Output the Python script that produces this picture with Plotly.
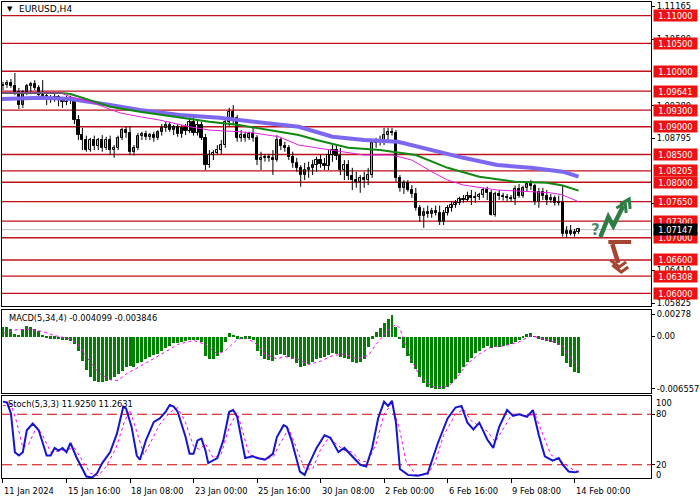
import plotly.graph_objects as go

# ---------------- DATA ----------------
bars = list(range(146))
opens = [1.0973,1.0975,1.0979,1.0973,1.0963,1.0939,1.0963,1.0973,1.0977,1.0970,
 1.0957,1.0956,1.0948,1.0952,1.0954,1.0948,1.0945,1.0952,1.0948,1.0912,
 1.0885,1.0876,1.0858,1.0876,1.0866,1.0876,1.0862,1.0876,1.0858,1.0862,
 1.0880,1.0894,1.0889,1.0855,1.0862,1.0884,1.0887,1.0882,1.0885,1.0880,
 1.0891,1.0898,1.0903,1.0894,1.0900,1.0887,1.0898,1.0893,1.0909,1.0889,
 1.0903,1.0880,1.0831,1.0849,1.0853,1.0858,1.0867,1.0909,1.0927,1.0916,
 1.0880,1.0885,1.0880,1.0887,1.0880,1.0840,1.0844,1.0846,1.0844,1.0840,
 1.0876,1.0866,1.0862,1.0846,1.0835,1.0826,1.0813,1.0822,1.0826,1.0831,
 1.0840,1.0833,1.0830,1.0849,1.0858,1.0848,1.0822,1.0831,1.0812,1.0804,
 1.0801,1.0808,1.0804,1.0813,1.0871,1.0875,1.0876,1.0885,1.0891,1.0889,
 1.0808,1.0790,1.0799,1.0786,1.0779,1.0754,1.0740,1.0747,1.0743,1.0749,
 1.0745,1.0729,1.0745,1.0754,1.0759,1.0763,1.0770,1.0768,1.0776,1.0772,
 1.0774,1.0777,1.0786,1.0781,1.0741,1.0779,1.0776,1.0774,1.0772,1.0770,
 1.0788,1.0776,1.0790,1.0797,1.0794,1.0765,1.0783,1.0776,1.0768,1.0772,
 1.0763,1.0765,1.0707,1.0713,1.0707,1.0711]
highs = [1.0981,1.0984,1.0986,1.0997,1.0970,1.0966,1.0977,1.0981,1.0984,1.0975,
 1.0984,1.0963,1.0957,1.0959,1.0957,1.0954,1.0956,1.0956,1.0952,1.0921,
 1.0898,1.0884,1.0880,1.0884,1.0880,1.0885,1.0882,1.0884,1.0867,1.0884,
 1.0898,1.0900,1.0901,1.0867,1.0889,1.0891,1.0893,1.0889,1.0891,1.0894,
 1.0905,1.0909,1.0909,1.0903,1.0905,1.0903,1.0905,1.0916,1.0916,1.0912,
 1.0909,1.0887,1.0858,1.0858,1.0867,1.0876,1.0912,1.0934,1.0939,1.0921,
 1.0894,1.0891,1.0891,1.0898,1.0885,1.0855,1.0851,1.0851,1.0858,1.0885,
 1.0880,1.0873,1.0867,1.0855,1.0844,1.0831,1.0835,1.0837,1.0840,1.0846,
 1.0849,1.0844,1.0858,1.0867,1.0866,1.0862,1.0840,1.0840,1.0826,1.0819,
 1.0813,1.0819,1.0826,1.0876,1.0880,1.0884,1.0898,1.0898,1.0898,1.0894,
 1.0813,1.0804,1.0804,1.0795,1.0790,1.0759,1.0754,1.0758,1.0754,1.0758,
 1.0758,1.0750,1.0759,1.0765,1.0768,1.0774,1.0777,1.0783,1.0786,1.0783,
 1.0781,1.0790,1.0792,1.0786,1.0783,1.0786,1.0781,1.0779,1.0777,1.0794,
 1.0797,1.0794,1.0801,1.0804,1.0797,1.0790,1.0790,1.0786,1.0779,1.0776,
 1.0776,1.0794,1.0721,1.0723,1.0716,1.0716]
lows = [1.0966,1.0970,1.0970,1.0957,1.0932,1.0934,1.0957,1.0963,1.0966,1.0952,
 1.0948,1.0939,1.0943,1.0945,1.0937,1.0934,1.0939,1.0941,1.0905,1.0876,
 1.0858,1.0855,1.0855,1.0858,1.0858,1.0855,1.0858,1.0849,1.0844,1.0858,
 1.0876,1.0880,1.0849,1.0848,1.0858,1.0876,1.0876,1.0876,1.0873,1.0876,
 1.0884,1.0891,1.0891,1.0885,1.0882,1.0880,1.0885,1.0889,1.0884,1.0884,
 1.0876,1.0822,1.0826,1.0840,1.0849,1.0849,1.0862,1.0901,1.0903,1.0873,
 1.0873,1.0873,1.0876,1.0873,1.0831,1.0822,1.0837,1.0837,1.0813,1.0837,
 1.0858,1.0855,1.0840,1.0826,1.0819,1.0792,1.0804,1.0808,1.0813,1.0819,
 1.0826,1.0822,1.0822,1.0837,1.0840,1.0813,1.0804,1.0804,1.0786,1.0790,
 1.0781,1.0790,1.0795,1.0808,1.0862,1.0866,1.0867,1.0876,1.0884,1.0801,
 1.0783,1.0779,1.0783,1.0772,1.0749,1.0729,1.0718,1.0736,1.0736,1.0740,
 1.0723,1.0723,1.0740,1.0747,1.0754,1.0759,1.0763,1.0765,1.0759,1.0763,
 1.0768,1.0772,1.0768,1.0740,1.0738,1.0768,1.0767,1.0765,1.0765,1.0759,
 1.0772,1.0772,1.0783,1.0786,1.0759,1.0754,1.0768,1.0759,1.0763,1.0758,
 1.0758,1.0702,1.0700,1.0704,1.0702,1.0707]
closes = [1.0975,1.0979,1.0973,1.0963,1.0939,1.0963,1.0973,1.0977,1.0970,1.0957,
 1.0956,1.0948,1.0952,1.0954,1.0948,1.0945,1.0952,1.0948,1.0912,1.0885,
 1.0876,1.0858,1.0876,1.0866,1.0876,1.0862,1.0876,1.0858,1.0862,1.0880,
 1.0894,1.0889,1.0855,1.0862,1.0884,1.0887,1.0882,1.0885,1.0880,1.0891,
 1.0898,1.0903,1.0894,1.0900,1.0887,1.0898,1.0893,1.0909,1.0889,1.0903,
 1.0880,1.0831,1.0849,1.0853,1.0858,1.0867,1.0909,1.0927,1.0916,1.0880,
 1.0885,1.0880,1.0887,1.0880,1.0840,1.0844,1.0846,1.0844,1.0840,1.0876,
 1.0866,1.0862,1.0846,1.0835,1.0826,1.0813,1.0822,1.0826,1.0831,1.0840,
 1.0833,1.0830,1.0849,1.0858,1.0848,1.0822,1.0831,1.0812,1.0804,1.0801,
 1.0808,1.0804,1.0813,1.0871,1.0875,1.0876,1.0885,1.0891,1.0889,1.0808,
 1.0790,1.0799,1.0786,1.0779,1.0754,1.0740,1.0747,1.0743,1.0749,1.0745,
 1.0729,1.0745,1.0754,1.0759,1.0763,1.0770,1.0768,1.0776,1.0772,1.0774,
 1.0777,1.0786,1.0781,1.0741,1.0779,1.0776,1.0774,1.0772,1.0770,1.0788,
 1.0776,1.0790,1.0797,1.0794,1.0765,1.0783,1.0776,1.0768,1.0772,1.0763,
 1.0765,1.0707,1.0713,1.0707,1.0711,1.0715]

# moving averages (read at sparse points)
ma_slow_x = [-0.5,9.5,17,22,27,34.5,44.5,54.5,59.5,67,74.5,83,91,99.5,108,116,124.5,133,141,145]
ma_slow_y = [1.0950,1.0952,1.0950,1.0945,1.0939,1.0930,1.0921,1.0916,1.0912,1.0907,1.0900,
             1.0882,1.0876,1.0873,1.0858,1.0844,1.0831,1.0826,1.0819,1.0810]
ma_mid_x = [-0.5,14.5,17,22,27,34.5,44.5,52,59.5,67,74.5,79,87,95,104,112,120,129,137,141,145]
ma_mid_y = [1.0961,1.0961,1.0959,1.0948,1.0936,1.0927,1.0916,1.0909,1.0903,1.0894,1.0885,
            1.0876,1.0862,1.0858,1.0849,1.0826,1.0810,1.0801,1.0799,1.0794,1.0785]
ma_fast_x = [-0.5,14.5,17,22,26,29.5,34.5,39.5,47,52,59.5,63,69.5,74.5,79,83,91,98,103,108,
             112,116,124.5,133,138,141,145]
ma_fast_y = [1.0961,1.0961,1.0954,1.0945,1.0934,1.0925,1.0918,1.0912,1.0900,1.0894,1.0891,
             1.0889,1.0882,1.0867,1.0862,1.0858,1.0849,1.0849,1.0840,1.0819,1.0804,1.0795,
             1.0786,1.0783,1.0781,1.0777,1.0765]

levels = [1.11000,1.10500,1.10000,1.09641,1.09300,1.09000,1.08500,1.08205,1.08000,
          1.07650,1.07300,1.07000,1.06600,1.06308,1.06000]
price_ticks = [1.11165,1.10580,1.09380,1.08795,1.07610,1.06410,1.05825]
last_price = 1.07147

macd_hist = [0.0012,0.0013,0.0010,0.0004,0.0003,0.0010,0.0014,0.0013,0.0010,0.0007,
 0.0003,-0.0001,-0.0002,-0.0002,-0.0003,-0.0004,-0.0004,-0.0005,-0.0009,-0.0017,
 -0.0030,-0.0041,-0.0050,-0.0055,-0.0056,-0.0056,-0.0055,-0.0054,-0.0050,-0.0046,
 -0.0042,-0.0038,-0.0036,-0.0037,-0.0033,-0.0031,-0.0028,-0.0025,-0.0023,-0.0021,
 -0.0017,-0.0014,-0.0011,-0.0008,-0.0007,-0.0006,-0.0005,-0.0004,-0.0004,-0.0004,
 -0.0006,-0.0024,-0.0027,-0.0027,-0.0024,-0.0019,-0.0006,0.0005,0.0003,-0.0002,
 -0.0003,-0.0002,-0.0002,-0.0004,-0.0018,-0.0024,-0.0027,-0.0029,-0.0030,-0.0023,
 -0.0021,-0.0022,-0.0025,-0.0028,-0.0032,-0.0037,-0.0036,-0.0034,-0.0031,-0.0028,
 -0.0026,-0.0025,-0.0022,-0.0020,-0.0021,-0.0025,-0.0026,-0.0028,-0.0031,-0.0032,
 -0.0031,-0.0028,-0.0012,-0.0002,0.0006,0.0011,0.0017,0.0022,0.0027,0.0013,
 -0.0003,-0.0014,-0.0024,-0.0032,-0.0040,-0.0050,-0.0058,-0.0062,-0.0064,-0.0065,
 -0.0065,-0.0065,-0.0063,-0.0058,-0.0052,-0.0045,-0.0038,-0.0031,-0.0026,-0.0020,
 -0.0017,-0.0014,-0.0011,-0.0014,-0.0013,-0.0012,-0.0011,-0.0010,-0.0009,-0.0006,
 -0.0004,-0.0001,0.0004,0.0005,0.0001,-0.0002,-0.0004,-0.0005,-0.0006,-0.0008,
 -0.0010,-0.0024,-0.0033,-0.0037,-0.0044,-0.0045]
macd_sig_x = [0,3,7,10,13,17,19,21,24,27,29,31,35,38,41,44,48,51,54,56,59,61,64,66,69,71,74,77,
              80,83,86,89,92,94,97,99,100,101,103,105,108,111,113,115,117,120,123,126,130,133,
              136,139,141,143,145]
macd_sig_y = [0.0004,0.0008,0.0009,0.0006,0.0001,-0.0003,-0.0010,-0.0025,-0.0045,-0.0054,-0.0055,
              -0.0047,-0.0036,-0.0028,-0.0019,-0.0010,-0.0005,-0.0010,-0.0022,-0.0018,-0.0004,
              -0.0001,-0.0010,-0.0022,-0.0028,-0.0025,-0.0028,-0.0035,-0.0031,-0.0024,-0.0022,
              -0.0028,-0.0024,-0.0010,0.0008,0.0015,0.0010,-0.0005,-0.0030,-0.0050,-0.0062,
              -0.0064,-0.0059,-0.0047,-0.0034,-0.0022,-0.0013,-0.0012,-0.0007,0.0001,-0.0003,
              -0.0007,-0.0012,-0.0027,-0.0037]
macd_ticks = [0.00278, 0.0, -0.006557]
macd_ticktext = ["0.00278", "0.00", "-0.006557"]

stoch_x = [0,1,2,3,4,5,6,7.5,9,11,12,13,14,15,16,17,18.5,20,21,22.5,23.7,25,27,28.7,30.3,31,32.4,
           33.7,34.5,36,38,39.5,41,42,43,44,45,46,47,48,49,50,51,51.7,54,55.5,57,58,59,61,63,64,
           66,68,69,70.7,71.5,72.7,74,74.8,76,77,79,81,82.5,84.5,86,88,90,91.5,93,94.5,96,97,98,
           99,100,102,104.5,107,109.5,112,114,115.5,117,118.5,120,122,123.5,125,127,128.5,130,
           132,133.5,135,136.5,138.5,140,141,142.5,144,145]
stoch_k = [95,94,81,35,31,35,61,69,61,31,31,40,37,40,35,46,29,16,6,5,10,22,35,57,89,87,65,
           31,26,49,71,75,83,91,89,83,69,53,33,33,49,51,37,22,28,49,83,85,77,28,30,28,
           26,33,53,67,65,49,26,12,8,20,40,55,52,35,40,30,20,18,40,75,95,90,96,
           70,15,8,7,10,45,75,88,90,70,62,70,50,40,65,85,78,80,
           77,85,55,30,25,28,20,12,11,12]
stoch_sx = [0,2,3.5,5,6.5,8.5,10,12,14,16,18,20,22,24,26,28.5,30.5,32,34,35.5,37,39.5,42,44,46,48,
            49.5,51,53,55,57,59,60.5,62,64,66,68,70,72,74,76,78,80,82,84,86,88,90,92,94,96,98,100,
            101.5,104,107,109,111,114,116,118,120,122,124,126,128,130,132,134,136,138,140,142,144,145]
stoch_d = [90,92,70,40,45,65,55,35,36,38,40,25,10,7,18,40,70,85,55,32,45,68,82,88,70,42,
           38,45,28,33,65,82,58,32,29,27,29,47,63,40,15,15,38,52,45,37,35,24,24,45,80,93,60,
           25,8,8,25,55,80,86,72,66,60,47,62,78,80,78,80,55,32,26,20,13,12]

date_ticks = [0,16,32,48,64,80,96,112,128,144]
date_labels = ["11 Jan 2024","15 Jan 16:00","18 Jan 08:00","23 Jan 00:00","25 Jan 16:00",
               "30 Jan 08:00","2 Feb 00:00","6 Feb 16:00","9 Feb 08:00","14 Feb 00:00"]

# ---------------- LAYOUT HELPERS ----------------
W, H = 700, 500
ML, MR, MT, MB = 1, 45, 2, 22
PW, PH = W - ML - MR, H - MT - MB
def pxx(x): return (x - ML) / PW
def pyy(y): return (H - MB - y) / PH

FONT = "DejaVu Sans"
fig = go.Figure()

# wicks
wx, wy = [], []
for i, h, l in zip(bars, highs, lows):
    wx += [i, i, None]; wy += [l, h, None]
fig.add_trace(go.Scatter(x=wx, y=wy, mode="lines", line=dict(color="black", width=1),
                         xaxis="x", yaxis="y", hoverinfo="skip"))
# bodies
up_x, up_b, up_h, dn_x, dn_b, dn_h = [], [], [], [], [], []
for i, o, c in zip(bars, opens, closes):
    if c >= o:
        up_x.append(i); up_b.append(o); up_h.append(max(c - o, 0.00002))
    else:
        dn_x.append(i); dn_b.append(c); dn_h.append(o - c)
fig.add_trace(go.Bar(x=up_x, y=up_h, base=up_b, width=0.55, marker=dict(color="white", line=dict(color="black", width=1)),
                     xaxis="x", yaxis="y"))
fig.add_trace(go.Bar(x=dn_x, y=dn_h, base=dn_b, width=0.55, marker=dict(color="black", line=dict(color="black", width=1)),
                     xaxis="x", yaxis="y"))
# MAs
fig.add_trace(go.Scatter(x=ma_slow_x, y=ma_slow_y, mode="lines", line=dict(color="#7B68EE", width=4), xaxis="x", yaxis="y"))
fig.add_trace(go.Scatter(x=ma_mid_x, y=ma_mid_y, mode="lines", line=dict(color="#118811", width=2), xaxis="x", yaxis="y"))
fig.add_trace(go.Scatter(x=ma_fast_x, y=ma_fast_y, mode="lines", line=dict(color="#E020E0", width=1), xaxis="x", yaxis="y"))

# MACD
fig.add_trace(go.Bar(x=bars, y=macd_hist, width=0.75, marker=dict(color="#008000", line=dict(width=0)),
                     xaxis="x2", yaxis="y2"))
fig.add_trace(go.Scatter(x=macd_sig_x, y=macd_sig_y, mode="lines", line=dict(color="#FF00FF", width=1, dash="dot"),
                         xaxis="x2", yaxis="y2"))
# Stoch
fig.add_trace(go.Scatter(x=stoch_sx, y=stoch_d, mode="lines", line=dict(color="#FF00FF", width=1, dash="dot"),
                         xaxis="x3", yaxis="y3"))
fig.add_trace(go.Scatter(x=stoch_x, y=stoch_k, mode="lines", line=dict(color="#1515D0", width=2),
                         xaxis="x3", yaxis="y3"))

shapes = []
for lv in levels:
    shapes.append(dict(type="line", xref="x domain", yref="y", x0=0, x1=1, y0=lv, y1=lv,
                       line=dict(color="#C0101C", width=1.3), layer="below"))
shapes.append(dict(type="line", xref="x domain", yref="y", x0=0, x1=1, y0=last_price, y1=last_price,
                   line=dict(color="#C0C0C0", width=1), layer="below"))
for lv in (80, 20):
    shapes.append(dict(type="line", xref="x3 domain", yref="y3", x0=0, x1=1, y0=lv, y1=lv,
                       line=dict(color="#D00000", width=1, dash="10px,5px"), layer="below"))

def path(pts):
    return "M " + " L ".join(f"{pxx(x):.5f},{pyy(y):.5f}" for x, y in pts)
G = "#2F7D45"; R = "#A5452F"
for pts, col, w in [
    ([(604, 237), (612, 217), (617, 226), (627, 206)], G, 4.5),
    ([(620, 208), (629, 203), (630, 213)], G, 3),
    ([(624, 204), (633, 199), (634, 209)], G, 3),
    ([(612, 242), (635, 242)], R, 4),
    ([(616, 244), (622, 263)], R, 4.5),
    ([(614, 260), (623, 267), (630, 262)], R, 3),
    ([(616, 265), (625, 272), (632, 267)], R, 3),
]:
    shapes.append(dict(type="path", xref="paper", yref="paper", path=path(pts),
                       line=dict(color=col, width=w)))

ann = []
for lv in levels:
    ann.append(dict(xref="paper", yref="y", x=1, y=lv, xanchor="left", xshift=2, text=f"{lv:.5f}",
                    showarrow=False, bgcolor="#EE1111", width=43, height=11, borderpad=0,
                    font=dict(family=FONT, size=8.3, color="white")))
ann.append(dict(xref="paper", yref="y", x=1, y=last_price, xanchor="left", xshift=2, text=f"{last_price:.5f}",
                showarrow=False, bgcolor="black", width=43, height=11, borderpad=0,
                font=dict(family=FONT, size=8.3, color="white")))
for t, ypix in [("100", 403), ("80", 414), ("20", 465), ("0", 475)]:
    ann.append(dict(xref="paper", yref="paper", x=pxx(658), y=pyy(ypix), xanchor="left", yanchor="middle",
                    text=t, showarrow=False, font=dict(family=FONT, size=8.3, color="black")))
for i, t in zip(date_ticks, date_labels):
    ann.append(dict(xref="x3", yref="paper", x=i, y=pyy(491), xanchor="left", yanchor="middle", xshift=-1,
                    text=t, showarrow=False, font=dict(family=FONT, size=8.3, color="black")))
ann.append(dict(xref="paper", yref="paper", x=pxx(16), y=pyy(9), xanchor="left", yanchor="middle",
                text="EURUSD,H4", showarrow=False, font=dict(family=FONT, size=9, color="black")))
ann.append(dict(xref="paper", yref="paper", x=pxx(4), y=pyy(9), xanchor="left", yanchor="middle",
                text="▼", showarrow=False, font=dict(family=FONT, size=7, color="black")))
ann.append(dict(xref="paper", yref="paper", x=pxx(6), y=pyy(318), xanchor="left", yanchor="middle",
                text="MACD(5,34,4) -0.004099 -0.003846", showarrow=False,
                font=dict(family=FONT, size=8.3, color="black")))
ann.append(dict(xref="paper", yref="paper", x=pxx(5), y=pyy(404), xanchor="left", yanchor="middle",
                text="Stoch(5,3,3) 11.9250 11.2631", showarrow=False,
                font=dict(family=FONT, size=8.3, color="black")))
ann.append(dict(xref="paper", yref="paper", x=pxx(599), y=pyy(230), xanchor="center", yanchor="middle",
                text="<b>?</b>", showarrow=False, font=dict(family=FONT, size=15, color="#4E8A5E")))

xr = [-0.25, 163.25]
axx = dict(range=xr, showgrid=False, zeroline=False, showline=True, mirror=True, linecolor="black",
           linewidth=1, showticklabels=False, ticks="", fixedrange=True)
axy = dict(showgrid=False, zeroline=False, showline=True, mirror=True, linecolor="black", linewidth=1,
           side="right", ticks="outside", ticklen=3, tickcolor="black",
           tickfont=dict(family=FONT, size=8.3, color="black"))

fig.update_layout(
    width=W, height=H, margin=dict(l=ML, r=MR, t=MT, b=MB),
    paper_bgcolor="white", plot_bgcolor="white", showlegend=False, barmode="overlay", bargap=0,
    xaxis=dict(axx, domain=[0, 1], anchor="y"),
    xaxis2=dict(axx, domain=[0, 1], anchor="y2", matches="x"),
    xaxis3=dict(axx, domain=[0, 1], anchor="y3", matches="x", ticks="outside", ticklen=4,
                tickcolor="black", tickvals=date_ticks),
    yaxis=dict(axy, domain=[pyy(306), 1.0], anchor="x", range=[1.05771, 1.11247],
               tickvals=price_ticks, ticktext=[f"{v:.5f}" for v in price_ticks]),
    yaxis2=dict(axy, domain=[pyy(393), pyy(309.5)], anchor="x2", range=[-0.00706, 0.00336],
                tickvals=macd_ticks, ticktext=macd_ticktext),
    yaxis3=dict(axy, domain=[pyy(478), pyy(396)], anchor="x3", range=[4.3, 101.7],
                tickvals=[80, 20], showticklabels=False),
    shapes=shapes, annotations=ann,
)
fig.write_html("out.html")
